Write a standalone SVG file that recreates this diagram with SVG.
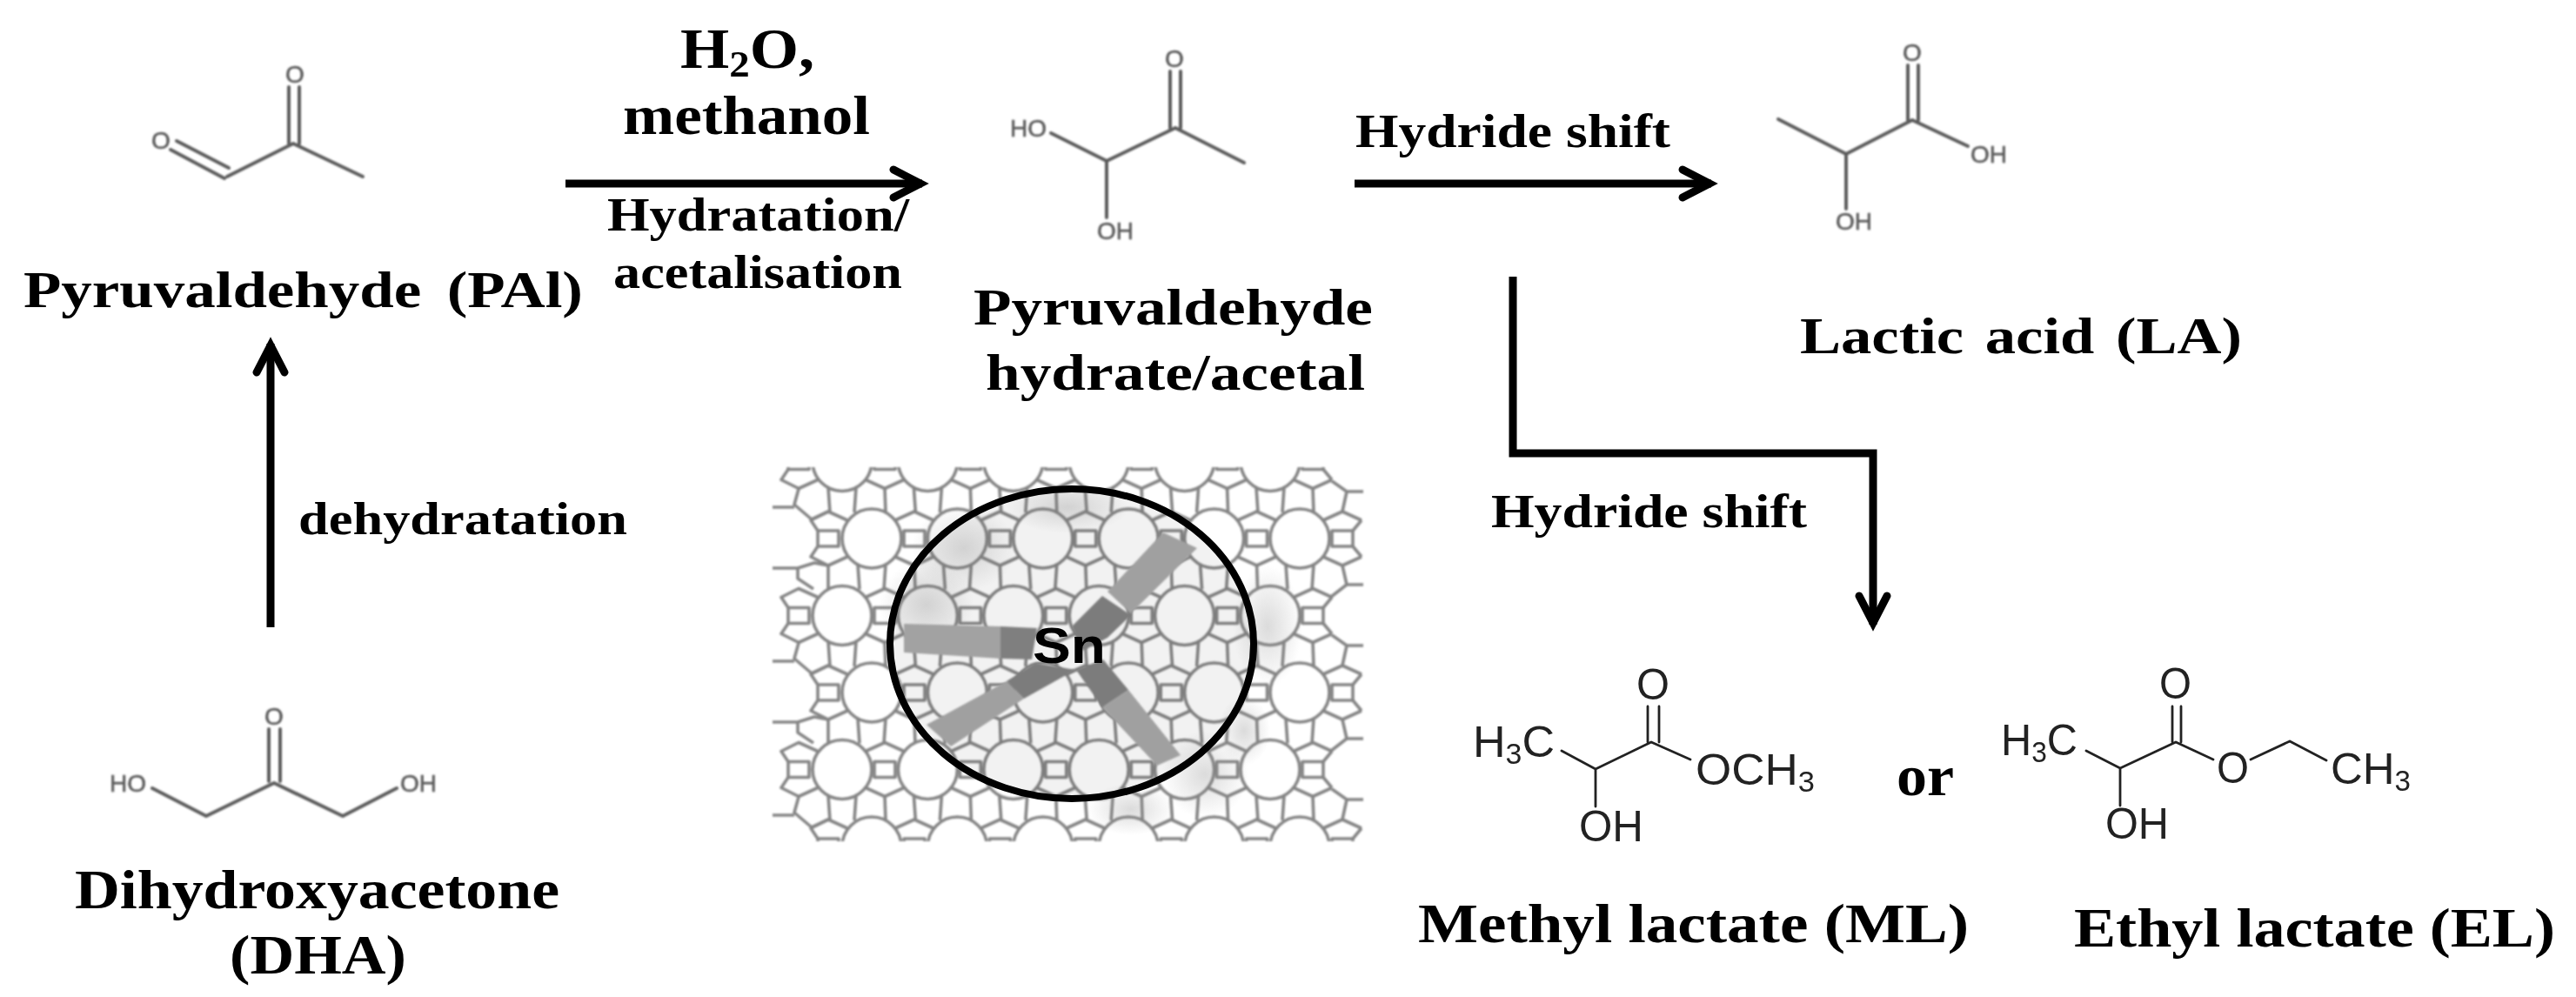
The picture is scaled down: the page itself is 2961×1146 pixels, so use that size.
<svg xmlns="http://www.w3.org/2000/svg" width="2961" height="1146" viewBox="0 0 2961 1146">
<style>
.t{font-family:"Liberation Serif","Times New Roman",serif;font-weight:700;fill:#000}
.a{font-family:"Liberation Sans",Arial,sans-serif;fill:#5c5c5c;stroke:#5c5c5c;stroke-width:.6;font-size:28px}
.k{font-family:"Liberation Sans",Arial,sans-serif;fill:#222;font-size:50px}
.b{fill:none;stroke:#5c5c5c;stroke-width:4;stroke-linecap:round;stroke-linejoin:round}
.d{fill:none;stroke:#222;stroke-width:2.8;stroke-linecap:round;stroke-linejoin:round}
.c{fill:none;stroke:#000;stroke-width:9}
.l{fill:none;stroke:#858585;stroke-width:3.6;stroke-linejoin:round}
.s{font-size:.65em}
</style>
<defs>
<marker id="ah" markerUnits="userSpaceOnUse" viewBox="-44 -26 56 52" refX="0" refY="0" markerWidth="56" markerHeight="52" orient="auto" overflow="visible">
<path d="M-33,-16 L-2,0 L-33,16" fill="none" stroke="#000" stroke-width="9" stroke-linecap="round"/>
</marker>
<filter id="soft" x="-5%" y="-5%" width="110%" height="110%"><feGaussianBlur stdDeviation="0.9"/></filter>
<radialGradient id="sh"><stop offset="0" stop-color="#888" stop-opacity=".3"/><stop offset="1" stop-color="#888" stop-opacity="0"/></radialGradient>
<clipPath id="lat"><rect x="886" y="537" width="690" height="430"/></clipPath>
<clipPath id="ct"><rect x="886" y="544" width="690" height="60"/></clipPath>
<clipPath id="cb"><rect x="886" y="900" width="690" height="60"/></clipPath>
<g id="rl"><circle r="34"/><rect x="37" y="-9" width="24" height="18"/><path d="M27,-21L49,-31L71,-21M27,21L49,31L71,21M-16,30L-14,58.5M16,30L14,58.5"/></g>
<g id="r"><use href="#rl"/><path d="M49,31L50,58.5"/></g>
<path id="cap" d="M71,-21L61,-9M71,21L61,9"/>
<g id="sqL"><rect x="-12" y="-9" width="24" height="18"/><path d="M-12,-9L-20,-21L0,-31L22,-21M-12,9L-20,21L0,31L22,21"/></g>
<path id="eL" d="M0,0L-5,18L15,35L34,26M-30,21H-5"/>
<path id="eL2" d="M34,-29L18,-32L-1,-26L-1,-14L17,-2M34,-29V-1M-1,-26L-30,-26"/>
<path id="eR" d="M22,-9L39,3L34,26M39,3H58"/>
<path id="eR2" d="M34,-30L39,-8L21,6M39,-8H58"/>
</defs>
<rect width="2961" height="1146" fill="#fff"/>

<g id="zeolite">
<g class="l" filter="url(#soft)">
<g clip-path="url(#lat)">
<g id="row-top"><use href="#sqL" x="918" y="530.5"/><use href="#r" x="968" y="530.5"/><use href="#r" x="1066.4" y="530.5"/><use href="#r" x="1164.8" y="530.5"/><use href="#r" x="1263.2" y="530.5"/><use href="#r" x="1361.6" y="530.5"/><use href="#r" x="1460" y="530.5"/><use href="#cap" x="1460" y="530.5"/></g>
<use href="#sqL" x="952" y="619"/><use href="#r" x="1002" y="619"/><use href="#r" x="1100.4" y="619"/><use href="#r" x="1198.8" y="619"/><use href="#r" x="1297.2" y="619"/><use href="#r" x="1395.6" y="619"/><use href="#rl" x="1494" y="619"/><use href="#cap" x="1494" y="619"/>
<use href="#sqL" x="918" y="707.5"/><use href="#r" x="968" y="707.5"/><use href="#r" x="1066.4" y="707.5"/><use href="#r" x="1164.8" y="707.5"/><use href="#r" x="1263.2" y="707.5"/><use href="#r" x="1361.6" y="707.5"/><use href="#r" x="1460" y="707.5"/><use href="#cap" x="1460" y="707.5"/>
<use href="#sqL" x="952" y="796"/><use href="#r" x="1002" y="796"/><use href="#r" x="1100.4" y="796"/><use href="#r" x="1198.8" y="796"/><use href="#r" x="1297.2" y="796"/><use href="#r" x="1395.6" y="796"/><use href="#rl" x="1494" y="796"/><use href="#cap" x="1494" y="796"/>
<use href="#sqL" x="918" y="884.5"/><use href="#r" x="968" y="884.5"/><use href="#r" x="1066.4" y="884.5"/><use href="#r" x="1164.8" y="884.5"/><use href="#r" x="1263.2" y="884.5"/><use href="#r" x="1361.6" y="884.5"/><use href="#r" x="1460" y="884.5"/><use href="#cap" x="1460" y="884.5"/>
<use href="#sqL" x="952" y="973"/><use href="#r" x="1002" y="973"/><use href="#r" x="1100.4" y="973"/><use href="#r" x="1198.8" y="973"/><use href="#r" x="1297.2" y="973"/><use href="#r" x="1395.6" y="973"/><use href="#rl" x="1494" y="973"/><use href="#cap" x="1494" y="973"/>
</g>
<use href="#eL" x="918" y="562"/><use href="#eL" x="918" y="739"/><use href="#eL" x="918" y="916"/>
<use href="#eL2" x="918" y="679"/><use href="#eL2" x="918" y="856"/>
<use href="#eR" x="1509" y="562"/><use href="#eR" x="1509" y="739"/><use href="#eR" x="1509" y="916"/>
<use href="#eR2" x="1509" y="680"/><use href="#eR2" x="1509" y="857"/>
</g>
<ellipse cx="1232" cy="740" rx="209" ry="178" fill="#000" opacity=".05"/>
<ellipse cx="1108" cy="630" rx="60" ry="50" fill="url(#sh)"/><ellipse cx="1065" cy="695" rx="55" ry="50" fill="url(#sh)"/><ellipse cx="1457" cy="720" rx="40" ry="70" fill="url(#sh)"/><ellipse cx="1385" cy="890" rx="50" ry="50" fill="url(#sh)"/><ellipse cx="1430" cy="840" rx="30" ry="40" fill="url(#sh)"/><ellipse cx="1227" cy="583" rx="70" ry="30" fill="url(#sh)"/><ellipse cx="1300" cy="930" rx="50" ry="30" fill="url(#sh)"/>
<g filter="url(#soft)">
<polygon points="1039,717 1150,720 1150,757 1039,750" fill="#a2a2a2"/>
<polygon points="1150,720 1192,722 1186,758 1150,757" fill="#7f7f7f"/>
<polygon points="1273,680 1300,705 1376,630 1337,612" fill="#a0a0a0"/>
<polygon points="1232,720 1267,685 1300,707 1273,733 1245,748" fill="#7b7b7b"/>
<polygon points="1157,783 1177,803 1093,858 1065,833" fill="#a0a0a0"/>
<polygon points="1157,783 1177,803 1236,770 1190,762" fill="#7b7b7b"/>
<polygon points="1267,813 1297,793 1357,868 1330,880" fill="#a0a0a0"/>
<polygon points="1237,770 1267,813 1297,793 1268,758" fill="#7b7b7b"/>
</g>
<ellipse cx="1232" cy="740" rx="209" ry="178" fill="none" stroke="#000" stroke-width="8"/>
<text x="1187" y="762" font-family="Liberation Sans, Arial, sans-serif" font-weight="700" font-size="58" textLength="84" lengthAdjust="spacingAndGlyphs">Sn</text>
</g>

<g id="connectors">
<path class="c" d="M650,211H1060" marker-end="url(#ah)"/>
<path class="c" d="M1557,211H1967" marker-end="url(#ah)"/>
<path class="c" d="M311,721V395" marker-end="url(#ah)"/>
<path class="c" d="M1739,318V521H2153V718" marker-end="url(#ah)"/>
</g>

<g id="node-pal">
<g filter="url(#soft)">
<path class="b" d="M263,193L203,162M258,205L196,172M261,203L337,165L417,203M332,100V165M344,100V165"/>
<text class="a" x="328" y="95" font-size="26">O</text><text class="a" x="174" y="171">O</text>
</g>
<text class="t" x="27" y="353" font-size="60" textLength="643" lengthAdjust="spacingAndGlyphs" word-spacing="10">Pyruvaldehyde (PAl)</text>
</g>

<g id="node-hydrate">
<g filter="url(#soft)">
<path class="b" d="M1208,153L1272,185L1351,147L1430,187M1272,185V250M1345,82V147M1357,82V147"/>
<text class="a" x="1339" y="77">O</text><text class="a" x="1161" y="157">HO</text><text class="a" x="1261" y="275">OH</text>
</g>
<text class="t" x="1119" y="373" font-size="60" textLength="459" lengthAdjust="spacingAndGlyphs">Pyruvaldehyde</text>
<text class="t" x="1133" y="448" font-size="60" textLength="436" lengthAdjust="spacingAndGlyphs">hydrate/acetal</text>
</g>

<g id="node-la">
<g filter="url(#soft)">
<path class="b" d="M2044,137L2122,177L2198,138L2262,168M2122,177V240M2193,75V138M2205,75V138"/>
<text class="a" x="2187" y="70">O</text><text class="a" x="2265" y="187">OH</text><text class="a" x="2110" y="264">OH</text>
</g>
<text class="t" x="2069" y="406" font-size="60" textLength="508" lengthAdjust="spacingAndGlyphs" word-spacing="6">Lactic acid (LA)</text>
</g>

<g id="node-dha">
<g filter="url(#soft)">
<path class="b" d="M175,906L237,938L315,900L394,938L456,906M309,838V898M322,838V898"/>
<text class="a" x="304" y="833">O</text><text class="a" x="126" y="910">HO</text><text class="a" x="460" y="910">OH</text>
</g>
<text class="t" x="86" y="1044" font-size="63" textLength="557" lengthAdjust="spacingAndGlyphs">Dihydroxyacetone</text>
<text class="t" x="264" y="1119" font-size="63" textLength="203" lengthAdjust="spacingAndGlyphs">(DHA)</text>
</g>

<g id="node-ml">
<path class="d" d="M1795,863L1834,884L1898,853L1943,873M1834,884V927M1894,812V853M1907,812V853"/>
<text class="k" x="1693" y="870" textLength="94" lengthAdjust="spacingAndGlyphs">H<tspan class="s" dy="8">3</tspan><tspan dy="-8">C</tspan></text>
<text class="k" x="1881" y="804" textLength="38" lengthAdjust="spacingAndGlyphs">O</text>
<text class="k" x="1949" y="902" textLength="137" lengthAdjust="spacingAndGlyphs">OCH<tspan class="s" dy="8">3</tspan></text>
<text class="k" x="1815" y="967" textLength="74" lengthAdjust="spacingAndGlyphs">OH</text>
<text class="t" x="1630" y="1083" font-size="63" textLength="633" lengthAdjust="spacingAndGlyphs">Methyl lactate (ML)</text>
</g>

<text id="label-or" class="t" x="2180" y="914" font-size="66" textLength="66" lengthAdjust="spacingAndGlyphs">or</text>

<g id="node-el">
<path class="d" d="M2398,863L2437,883L2501,853L2544,873M2587,873L2632,852L2674,874M2437,883V926M2497,812V853M2507,812V853"/>
<text class="k" x="2300" y="868" textLength="88" lengthAdjust="spacingAndGlyphs">H<tspan class="s" dy="8">3</tspan><tspan dy="-8">C</tspan></text>
<text class="k" x="2482" y="803" textLength="37" lengthAdjust="spacingAndGlyphs">O</text>
<text class="k" x="2548" y="900" textLength="37" lengthAdjust="spacingAndGlyphs">O</text>
<text class="k" x="2679" y="901" textLength="92" lengthAdjust="spacingAndGlyphs">CH<tspan class="s" dy="8">3</tspan></text>
<text class="k" x="2420" y="964" textLength="73" lengthAdjust="spacingAndGlyphs">OH</text>
<text class="t" x="2384" y="1088" font-size="63" textLength="553" lengthAdjust="spacingAndGlyphs">Ethyl lactate (EL)</text>
</g>

<g id="labels">
<text class="t" x="782" y="78" font-size="65" textLength="154" lengthAdjust="spacingAndGlyphs">H<tspan class="s" dy="10">2</tspan><tspan dy="-10">O,</tspan></text>
<text class="t" x="716" y="154" font-size="64" textLength="284" lengthAdjust="spacingAndGlyphs">methanol</text>
<text class="t" x="698" y="265" font-size="55" textLength="347" lengthAdjust="spacingAndGlyphs">Hydratation/</text>
<text class="t" x="705" y="331" font-size="55" textLength="332" lengthAdjust="spacingAndGlyphs">acetalisation</text>
<text class="t" x="1558" y="169" font-size="54" textLength="362" lengthAdjust="spacingAndGlyphs">Hydride shift</text>
<text class="t" x="1714" y="606" font-size="54" textLength="363" lengthAdjust="spacingAndGlyphs">Hydride shift</text>
<text class="t" x="343" y="614" font-size="52" textLength="378" lengthAdjust="spacingAndGlyphs">dehydratation</text>
</g>
</svg>
